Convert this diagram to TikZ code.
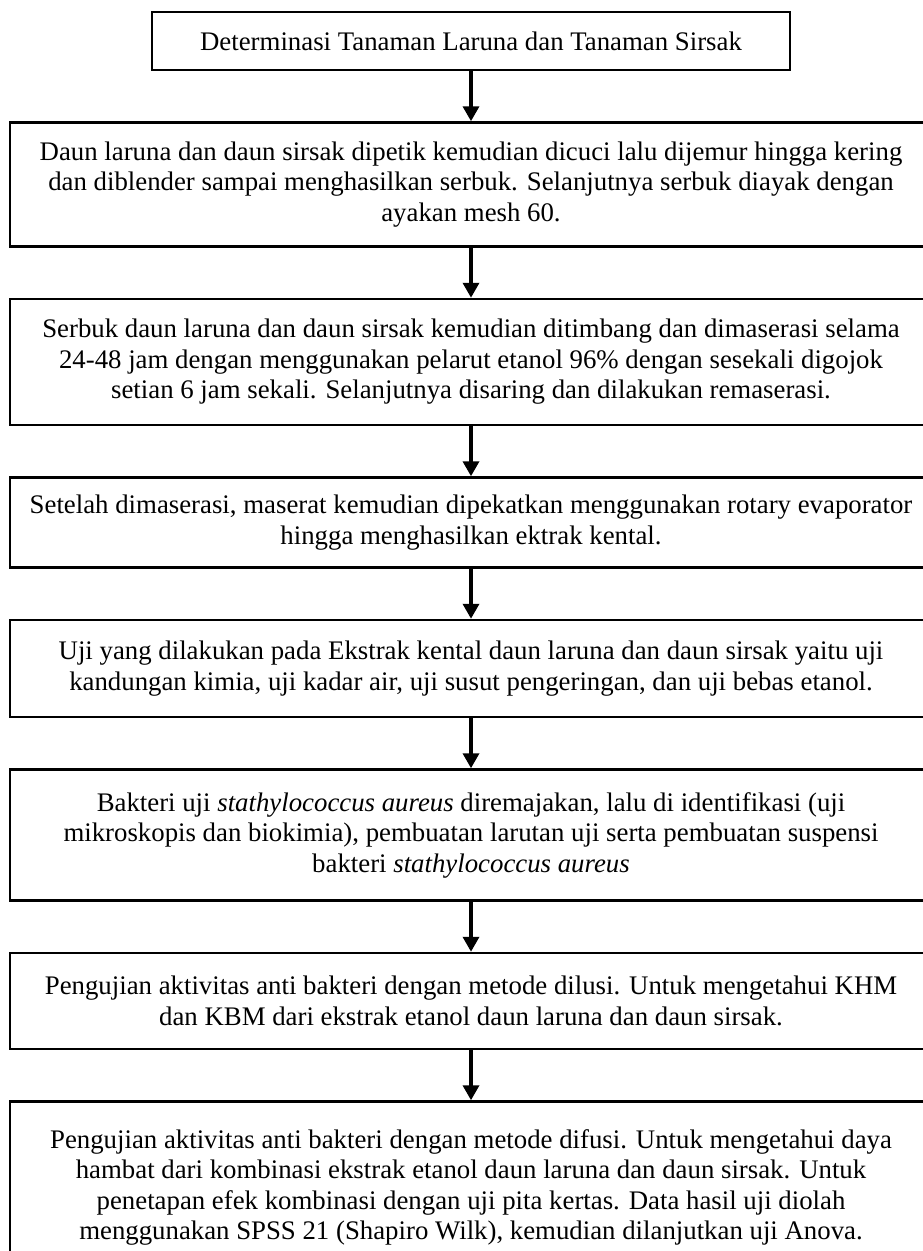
\documentclass[tikz,border=0pt]{standalone}
\usepackage{fontspec}
\setmainfont{Liberation Serif}
\usetikzlibrary{positioning,arrows.meta}
\begin{document}
\begin{tikzpicture}[x=1pt, y=1pt,
  langkah/.style={draw, line width=2.5pt, align=center, minimum width=922pt, inner sep=3pt,
    font=\fontsize{26.8}{30.5}\selectfont},
  alur/.style={line width=3.5pt, -{Triangle[width=16pt,length=15pt]}},
  node distance=50pt]
  \useasboundingbox (0,0) rectangle (922,-1251);
  % kotak-kotak alur penelitian, dari atas ke bawah
  \node[langkah, minimum width=638pt, minimum height=58pt] (b1) at (471,-41)
    {Determinasi Tanaman Laruna dan Tanaman Sirsak};
  \node[langkah, minimum height=124pt, below=of b1] (b2)
    {Daun laruna dan daun sirsak dipetik kemudian dicuci lalu dijemur hingga kering\\
     dan diblender sampai menghasilkan serbuk. Selanjutnya serbuk diayak dengan\\
     ayakan mesh 60.};
  \node[langkah, minimum height=126pt, below=of b2] (b3)
    {Serbuk daun laruna dan daun sirsak kemudian ditimbang dan dimaserasi selama\\
     24-48 jam dengan menggunakan pelarut etanol 96\% dengan sesekali digojok\\
     setian 6 jam sekali. Selanjutnya disaring dan dilakukan remaserasi.};
  \node[langkah, minimum height=90pt, below=of b3] (b4)
    {Setelah dimaserasi, maserat kemudian dipekatkan menggunakan rotary evaporator\\
     hingga menghasilkan ektrak kental.};
  \node[langkah, minimum height=97pt, below=of b4] (b5)
    {Uji yang dilakukan pada Ekstrak kental daun laruna dan daun sirsak yaitu uji\\
     kandungan kimia, uji kadar air, uji susut pengeringan, dan uji bebas etanol.};
  \node[langkah, minimum height=131pt, below=of b5] (b6)
    {Bakteri uji \textit{stathylococcus aureus} diremajakan, lalu di identifikasi (uji\\
     mikroskopis dan biokimia), pembuatan larutan uji serta pembuatan suspensi\\
     bakteri \textit{stathylococcus aureus}};
  \node[langkah, minimum height=96pt, below=of b6] (b7)
    {Pengujian aktivitas anti bakteri dengan metode dilusi. Untuk mengetahui KHM\\
     dan KBM dari ekstrak etanol daun laruna dan daun sirsak.};
  \node[langkah, minimum height=172pt, below=of b7] (b8)
    {Pengujian aktivitas anti bakteri dengan metode difusi. Untuk mengetahui daya\\
     hambat dari kombinasi ekstrak etanol daun laruna dan daun sirsak. Untuk\\
     penetapan efek kombinasi dengan uji pita kertas. Data hasil uji diolah\\
     menggunakan SPSS 21 (Shapiro Wilk), kemudian dilanjutkan uji Anova.};
  % panah antar kotak
  \draw[alur] (b1) -- (b2); \draw[alur] (b2) -- (b3);
  \draw[alur] (b3) -- (b4); \draw[alur] (b4) -- (b5);
  \draw[alur] (b5) -- (b6); \draw[alur] (b6) -- (b7);
  \draw[alur] (b7) -- (b8);
\end{tikzpicture}
\end{document}
